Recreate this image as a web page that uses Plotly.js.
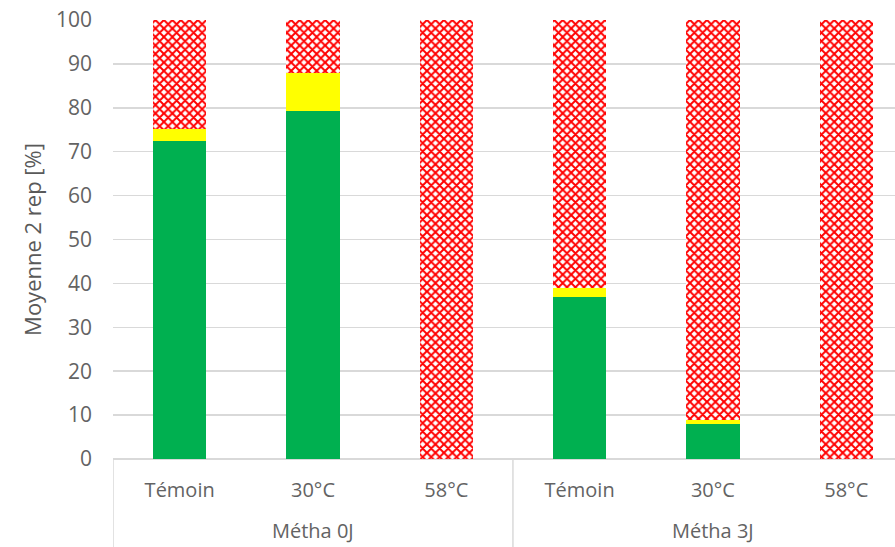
<!DOCTYPE html>
<html><head><meta charset="utf-8">
<script src="https://cdn.plot.ly/plotly-3.0.1.min.js"></script>
<style>html,body{margin:0;padding:0;overflow:hidden;background:#fff}</style>
</head><body>
<div id="chart" style="width:895px;height:547px"></div>
<script>
const groupNames = ['Métha 0J','Métha 3J'];
const treatments = ['Témoin','30°C','58°C','Témoin','30°C','58°C'];
const greenVals = [72.4, 79.3, 0, 37.0, 7.9, 0];
const yellowVals = [2.7, 8.6, 0, 2.0, 1.0, 0];
const redVals = [24.9, 12.1, 100, 61.0, 91.1, 100];
const yTicks = [0,10,20,30,40,50,60,70,80,90,100];

const xIdx = treatments.map((_, i) => i);
const common = {type:'bar', x:xIdx, width:0.4, hoverinfo:'y'};
const traces = [
  Object.assign({}, common, {y:greenVals, name:'vert', marker:{color:'#00B050', line:{width:0}}}),
  Object.assign({}, common, {y:yellowVals, name:'jaune', marker:{color:'#FFFF00', line:{width:0}}}),
  Object.assign({}, common, {y:redVals, name:'rouge', marker:{color:'#FFFFFF', line:{width:0},
    pattern:{shape:'x', fgcolor:'#FF0000', bgcolor:'#FFFFFF', size:6, solidity:0.55, fgopacity:1, fillmode:'overlay'}}})
];
const fam = '"Open Sans", Lato, sans-serif';
const font = {family:fam, size:20, color:'#636363'};
const perGroup = treatments.length / groupNames.length;
const annotations = groupNames.map((g, k) => ({
  text:g, xref:'x', yref:'paper', x:k*perGroup + (perGroup-1)/2, y:-0.163,
  yanchor:'middle', xanchor:'center', showarrow:false, font:font
}));
const shapes = [];
for (let k = 0; k <= groupNames.length; k++) {
  shapes.push({type:'line', xref:'x', yref:'paper', x0:k*perGroup-0.5, x1:k*perGroup-0.5,
    y0:0, y1:-0.3, line:{color:'#d9d9d9', width:1.5}, layer:'below'});
}
const layout = {
  width:895, height:547,
  margin:{l:113, r:0, t:20, b:88},
  barmode:'stack',
  showlegend:false,
  paper_bgcolor:'#fff', plot_bgcolor:'#fff',
  font:font,
  xaxis:{range:[-0.5, 5.366], tickvals:xIdx, ticktext:treatments, showgrid:false, zeroline:false,
    showline:false, ticks:'', tickfont:font, ticklabelstandoff:17},
  yaxis:{range:[0,100], tickvals:yTicks, ticktext:yTicks.map(String), showgrid:true,
    gridcolor:'#d9d9d9', gridwidth:1.5, zeroline:true, zerolinecolor:'#d9d9d9', zerolinewidth:1.5,
    ticks:'', showline:false, tickfont:{family:fam, size:21, color:'#636363'}, ticklabelstandoff:20,
    title:{text:'Moyenne 2 rep [%]', font:{family:fam, size:22, color:'#595959'}, standoff:8}},
  annotations:annotations,
  shapes:shapes
};
Plotly.newPlot('chart', traces, layout, {displayModeBar:false, staticPlot:true});
</script>
</body></html>
